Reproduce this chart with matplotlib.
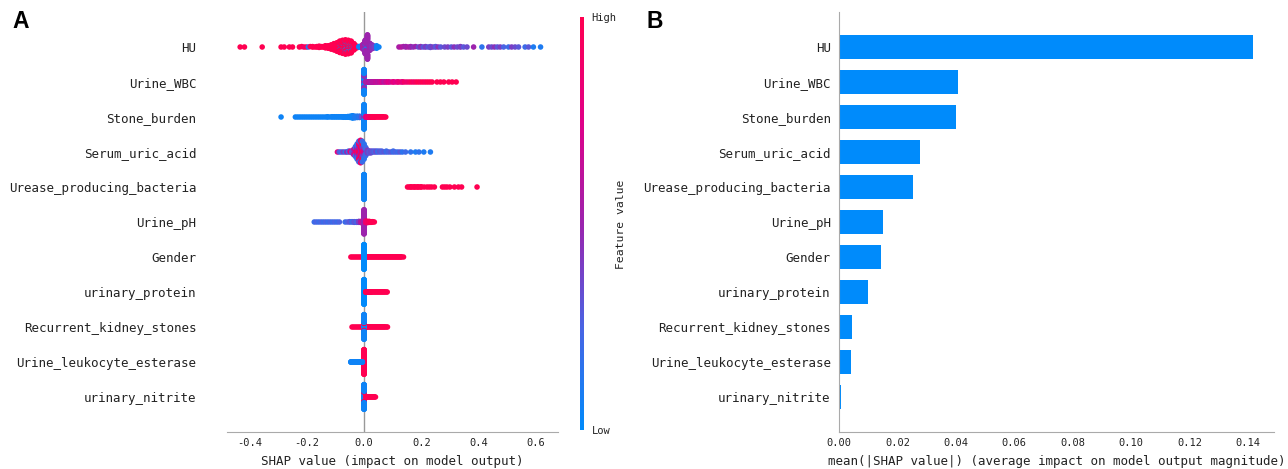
import numpy as np
import matplotlib
matplotlib.use("Agg")
import matplotlib.pyplot as plt
from matplotlib.colors import LinearSegmentedColormap, Normalize
from matplotlib.cm import ScalarMappable

# ---------------------------------------------------------------- data
FEATURES = [
    "HU", "Urine_WBC", "Stone_burden", "Serum_uric_acid",
    "Urease_producing_bacteria", "Urine_pH", "Gender", "urinary_protein",
    "Recurrent_kidney_stones", "Urine_leukocyte_esterase", "urinary_nitrite",
]

MEAN_ABS_SHAP = [0.1418, 0.0407, 0.0400, 0.0278, 0.0253, 0.0151,
                 0.0144, 0.0100, 0.0045, 0.0042, 0.0007]

BEESWARM_TICKS = [-0.4, -0.2, 0.0, 0.2, 0.4, 0.6]
BAR_TICKS = [0.00, 0.02, 0.04, 0.06, 0.08, 0.10, 0.12, 0.14]

# Each entry: (SHAP value, scaled feature value 0..1, number of samples)
HU_POINTS = [
    (-0.433, 1, 1), (-0.418, 1, 1), (-0.356, 1, 1), (-0.290, 1, 1),
    (-0.279, 1, 1), (-0.261, 1, 1), (-0.250, 1, 1), (-0.226, 1, 1),
    (-0.218, 1, 1), (-0.210, 0.9, 1), (-0.202, 1, 1), (-0.195, 0.15, 1),
    (-0.188, 1, 1), (-0.180, 1, 2), (-0.172, 1, 1), (-0.165, 1, 2),
    (-0.157, 1, 2), (-0.150, 1, 2), (-0.143, 1, 2),
    (-0.135, 1, 4), (-0.125, 1, 7), (-0.115, 1, 11), (-0.105, 1, 16),
    (-0.095, 1, 21),
    (-0.085, 1, 14), (-0.085, 0.05, 2), (-0.085, 1, 12),
    (-0.075, 1, 16), (-0.075, 0.05, 2), (-0.075, 1, 14),
    (-0.065, 1, 14), (-0.065, 0.1, 3), (-0.065, 1, 10), (-0.065, 0.05, 2),
    (-0.065, 1, 6),
    (-0.055, 1, 12), (-0.055, 0.05, 2), (-0.055, 1, 8), (-0.055, 0.1, 3),
    (-0.055, 1, 8),
    (-0.045, 1, 10), (-0.045, 0.1, 2), (-0.045, 1, 8), (-0.045, 0.05, 3),
    (-0.045, 1, 6),
    (-0.035, 1, 8), (-0.035, 0.1, 2), (-0.035, 1, 6),
    (-0.025, 1, 5), (-0.018, 0.05, 2), (-0.012, 0.05, 2),
    (-0.004, 0.55, 12), (0.004, 0.5, 14), (0.004, 0.1, 3), (0.004, 0.5, 16),
    (0.012, 0.5, 26), (0.020, 0.5, 18), (0.028, 0.45, 10), (0.036, 0.4, 5),
    (0.044, 0.05, 2), (0.052, 0.05, 1),
    (0.122, 0.55, 1), (0.130, 0.6, 1), (0.138, 0.55, 1), (0.146, 0.5, 2),
    (0.155, 0.55, 1), (0.163, 0.5, 2), (0.172, 0.45, 1), (0.180, 0.5, 1),
    (0.190, 0.35, 1), (0.198, 0.45, 2), (0.207, 0.3, 1), (0.215, 0.4, 2),
    (0.224, 0.3, 1), (0.232, 0.35, 2), (0.241, 0.4, 1), (0.250, 0.3, 2),
    (0.259, 0.45, 1), (0.268, 0.3, 1), (0.282, 0.35, 1), (0.293, 0.4, 1),
    (0.305, 0.3, 1), (0.315, 0.45, 1), (0.326, 0.35, 1), (0.337, 0.4, 2),
    (0.348, 0.3, 1), (0.360, 0.35, 1), (0.383, 0.5, 1), (0.412, 0.15, 1),
    (0.436, 0.4, 1), (0.446, 0.35, 1), (0.456, 0.45, 1), (0.466, 0.3, 1),
    (0.476, 0.4, 1), (0.488, 0.25, 1), (0.505, 0.2, 1), (0.516, 0.4, 1),
    (0.528, 0.35, 1), (0.540, 0.3, 1), (0.563, 0.2, 1), (0.575, 0.3, 1),
    (0.592, 0.1, 1), (0.617, 0.1, 1),
]

URINE_WBC_POINTS = [
    (0.0, 0.45, 30), (0.0, 0.05, 30), (0.0, 0.45, 30), (0.0, 0.05, 40),
    (0.006, 0.55, 3), (0.012, 0.55, 3), (0.018, 0.6, 3), (0.024, 0.55, 3),
    (0.030, 0.6, 3), (0.036, 0.6, 2), (0.042, 0.65, 2), (0.048, 0.6, 2),
    (0.055, 0.65, 2), (0.062, 0.7, 2), (0.070, 0.6, 2), (0.078, 0.7, 2),
    (0.086, 0.75, 2), (0.094, 0.7, 1), (0.102, 0.8, 2), (0.110, 0.75, 1),
    (0.118, 0.8, 2), (0.126, 0.85, 1), (0.134, 0.8, 2), (0.142, 0.9, 1),
    (0.150, 0.85, 1), (0.158, 0.9, 1), (0.166, 0.95, 1), (0.174, 0.9, 1),
    (0.182, 0.95, 1), (0.190, 1, 1), (0.198, 0.95, 1), (0.206, 1, 1),
    (0.214, 0.95, 1), (0.222, 1, 1), (0.230, 1, 1), (0.238, 1, 1),
    (0.255, 1, 1), (0.267, 1, 1), (0.279, 1, 1), (0.296, 1, 1),
    (0.308, 1, 1), (0.322, 1, 1),
]

STONE_BURDEN_POINTS = [
    (-0.290, 0.05, 1), (-0.240, 0.05, 1), (-0.232, 0.05, 1), (-0.224, 0.05, 1),
    (-0.216, 0.05, 1), (-0.208, 0.05, 1), (-0.200, 0.05, 1), (-0.192, 0.05, 1),
    (-0.184, 0.05, 1), (-0.176, 0.05, 1), (-0.168, 0.05, 1), (-0.160, 0.05, 1),
    (-0.152, 0.05, 1), (-0.144, 0.05, 1), (-0.136, 0.05, 1), (-0.128, 0.05, 2),
    (-0.120, 0.05, 1), (-0.112, 0.05, 2), (-0.104, 0.05, 2), (-0.096, 0.05, 2),
    (-0.088, 0.05, 2), (-0.080, 0.05, 2), (-0.072, 0.05, 3), (-0.064, 0.05, 3),
    (-0.056, 0.05, 4), (-0.048, 0.05, 6), (-0.040, 0.05, 10), (-0.032, 0.1, 7),
    (-0.024, 0.1, 6), (-0.016, 0.15, 6), (-0.008, 0.3, 5),
    (0.0, 0.45, 25), (0.0, 0.05, 75),
    (0.006, 0.7, 4), (0.012, 0.85, 3), (0.018, 0.9, 3), (0.024, 0.95, 3),
    (0.030, 1, 3), (0.036, 1, 3), (0.042, 1, 2), (0.048, 1, 2),
    (0.054, 1, 2), (0.060, 1, 2), (0.066, 1, 2), (0.072, 1, 1), (0.076, 1, 1),
]

SERUM_URIC_ACID_POINTS = [
    (-0.093, 0.8, 1), (-0.087, 0.3, 1), (-0.080, 0.2, 1), (-0.073, 0.4, 1),
    (-0.066, 0.15, 1), (-0.060, 0.5, 1), (-0.054, 0.2, 2), (-0.048, 0.8, 2),
    (-0.042, 0.3, 3),
    (-0.036, 0.9, 2), (-0.036, 0.2, 2), (-0.036, 0.6, 3),
    (-0.030, 0.6, 4), (-0.030, 0.9, 4), (-0.030, 0.2, 4),
    (-0.024, 0.9, 6), (-0.024, 0.5, 6), (-0.024, 0.15, 6),
    (-0.018, 1, 8), (-0.018, 0.5, 8), (-0.018, 0.9, 6), (-0.018, 0.2, 2),
    (-0.012, 0.6, 8), (-0.012, 1, 10), (-0.012, 0.4, 6), (-0.012, 0.9, 2),
    (-0.006, 0.9, 8), (-0.006, 0.45, 8), (-0.006, 1, 6), (-0.006, 0.2, 2),
    (0.0, 0.7, 8), (0.0, 0.35, 6), (0.0, 0.15, 4),
    (0.006, 0.5, 4), (0.006, 0.2, 6),
    (0.012, 0.4, 4), (0.018, 0.3, 3), (0.024, 0.35, 3),
    (0.030, 0.3, 2), (0.036, 0.25, 2), (0.042, 0.35, 2), (0.048, 0.2, 2),
    (0.055, 0.3, 2), (0.062, 0.25, 2), (0.070, 0.3, 1), (0.078, 0.2, 2),
    (0.086, 0.25, 1), (0.094, 0.3, 1), (0.102, 0.2, 2), (0.110, 0.25, 1),
    (0.118, 0.2, 1), (0.126, 0.3, 1), (0.134, 0.15, 1), (0.145, 0.2, 1),
    (0.163, 0.15, 1), (0.180, 0.1, 1), (0.192, 0.15, 1), (0.209, 0.1, 1),
    (0.232, 0.1, 1),
]

UREASE_POINTS = [
    (0.0, 0.05, 160),
    (0.152, 1, 1), (0.158, 1, 1), (0.164, 1, 2), (0.170, 1, 1), (0.176, 1, 2),
    (0.182, 1, 1), (0.188, 1, 2), (0.194, 1, 1), (0.200, 1, 2), (0.210, 1, 1),
    (0.220, 1, 1), (0.228, 1, 1), (0.236, 1, 1), (0.246, 1, 1), (0.274, 1, 1),
    (0.282, 1, 1), (0.290, 1, 1), (0.300, 1, 1), (0.316, 1, 1), (0.330, 1, 1),
    (0.341, 1, 1), (0.395, 1, 1),
]

URINE_PH_POINTS = [
    (-0.174, 0.2, 1), (-0.166, 0.25, 1), (-0.158, 0.2, 1), (-0.150, 0.25, 1),
    (-0.142, 0.2, 1), (-0.134, 0.25, 1), (-0.126, 0.2, 1), (-0.118, 0.25, 1),
    (-0.110, 0.2, 1), (-0.102, 0.25, 1), (-0.094, 0.2, 1), (-0.086, 0.25, 1),
    (-0.066, 0.2, 1), (-0.058, 0.25, 1), (-0.050, 0.3, 2), (-0.042, 0.2, 2),
    (-0.034, 0.3, 3), (-0.026, 0.25, 3), (-0.018, 0.4, 4), (-0.010, 0.6, 5),
    (0.0, 0.5, 80),
    (0.006, 0.85, 6), (0.012, 0.9, 5), (0.018, 0.95, 4), (0.024, 1, 3),
    (0.030, 1, 2), (0.036, 1, 1),
]

GENDER_POINTS = [
    (-0.046, 1, 1), (-0.040, 1, 1), (-0.034, 1, 1), (-0.028, 1, 1),
    (-0.022, 1, 1), (-0.016, 1, 1), (-0.010, 1, 1), (-0.004, 1, 1),
    (0.004, 1, 2), (0.010, 1, 2), (0.016, 1, 2), (0.022, 1, 2), (0.028, 1, 2),
    (0.034, 1, 2), (0.040, 1, 2), (0.046, 1, 2), (0.052, 1, 2), (0.058, 1, 2),
    (0.064, 1, 2), (0.070, 1, 2), (0.076, 1, 2), (0.082, 1, 2), (0.088, 1, 2),
    (0.094, 1, 2), (0.100, 1, 2), (0.106, 1, 2), (0.112, 1, 2), (0.118, 1, 2),
    (0.124, 1, 2), (0.130, 1, 2), (0.138, 1, 1),
    (0.0, 0.0, 150),
]

URINARY_PROTEIN_POINTS = [
    (0.0, 0.0, 150),
    (0.006, 1, 3), (0.012, 1, 3), (0.018, 1, 3), (0.024, 1, 3), (0.030, 1, 2),
    (0.036, 1, 2), (0.042, 1, 2), (0.048, 1, 2), (0.054, 1, 2), (0.060, 1, 2),
    (0.066, 1, 2), (0.072, 1, 2), (0.078, 1, 1), (0.081, 1, 1),
]

RECURRENT_STONES_POINTS = [
    (-0.042, 1, 1), (-0.036, 1, 1), (-0.030, 1, 1), (-0.024, 1, 1),
    (-0.018, 1, 1), (-0.012, 1, 1), (-0.006, 1, 1),
    (0.006, 1, 2), (0.012, 1, 2), (0.018, 1, 2), (0.024, 1, 2), (0.030, 1, 2),
    (0.036, 1, 2), (0.042, 1, 2), (0.048, 1, 2), (0.054, 1, 2), (0.060, 1, 2),
    (0.066, 1, 2), (0.072, 1, 2), (0.078, 1, 1), (0.082, 1, 1),
    (0.0, 0.05, 40), (0.0, 1, 12), (0.0, 0.05, 90),
]

LEUKOCYTE_ESTERASE_POINTS = [
    (0.0, 1, 150),
    (-0.046, 0.05, 3), (-0.041, 0.05, 3), (-0.036, 0.05, 3), (-0.031, 0.05, 3),
    (-0.026, 0.05, 3), (-0.021, 0.05, 3), (-0.016, 0.05, 3), (-0.011, 0.05, 3),
    (-0.006, 0.05, 3),
]

URINARY_NITRITE_POINTS = [
    (0.0, 0.05, 60), (0.0, 1, 10), (0.0, 0.5, 4), (0.0, 0.05, 84),
    (0.006, 1, 2), (0.011, 1, 2), (0.016, 1, 2), (0.021, 1, 2), (0.026, 1, 2),
    (0.031, 1, 2), (0.036, 1, 2), (0.040, 1, 1),
]

ROW_POINTS = [
    HU_POINTS, URINE_WBC_POINTS, STONE_BURDEN_POINTS, SERUM_URIC_ACID_POINTS,
    UREASE_POINTS, URINE_PH_POINTS, GENDER_POINTS, URINARY_PROTEIN_POINTS,
    RECURRENT_STONES_POINTS, LEUKOCYTE_ESTERASE_POINTS, URINARY_NITRITE_POINTS,
]

# ---------------------------------------------------------------- style
plt.rcParams["font.family"] = ["DejaVu Sans Mono"]
plt.rcParams["axes.unicode_minus"] = False

TEXT_COLOR = "#222222"
BAR_COLOR = "#008bfb"

# blue -> purple -> red scale used for the feature values
red_blue = LinearSegmentedColormap.from_list(
    "red_blue",
    [(0.0, (0.0, 0.543, 0.983)),
     (0.25, (0.29, 0.39, 0.89)),
     (0.5, (0.61, 0.14, 0.68)),
     (0.75, (0.88, 0.0, 0.53)),
     (1.0, (1.0, 0.0, 0.318))],
)


def expand(points):
    vals, cols = [], []
    for v, c, n in points:
        vals += [v] * n
        cols += [c] * n
    return np.array(vals, float), np.array(cols, float)


def swarm_offsets(vals, row_height=0.4, nbins=100):
    """Stack points that fall into the same bin alternately above/below."""
    span = vals.max() - vals.min()
    quant = np.round(nbins * (vals - vals.min()) / (span + 1e-8))
    order = np.argsort(quant, kind="stable")
    ys = np.zeros(len(vals))
    layer, last = 0, None
    for i in order:
        if quant[i] != last:
            layer = 0
        ys[i] = np.ceil(layer / 2) * ((layer % 2) * 2 - 1)
        layer += 1
        last = quant[i]
    ys *= 0.9 * (row_height / np.max(ys + 1))
    return ys


W, H = 1288, 469
fig = plt.figure(figsize=(W / 100, H / 100), dpi=100)


def px_axes(x0, y_top, x1, y_bottom):
    return fig.add_axes([x0 / W, 1 - y_bottom / H, (x1 - x0) / W, (y_bottom - y_top) / H])


n = len(FEATURES)
positions = [n - 1 - i for i in range(n)]

# ---------------------------------------------------------------- panel A
axA = px_axes(227, 12, 558, 432)
axA.axvline(0, color="#999999", lw=1.0, zorder=-1)
for pos, pts in zip(positions, ROW_POINTS):
    vals, cols = expand(pts)
    ys = swarm_offsets(vals)
    axA.scatter(vals, pos + ys, c=cols, cmap=red_blue, vmin=0, vmax=1,
                s=16, linewidths=0, zorder=3)

axA.set_xlim(-0.479, 0.678)
axA.set_ylim(-1, n)
axA.set_yticks(positions)
axA.set_yticklabels(FEATURES)
axA.set_xticks(BEESWARM_TICKS)
axA.set_xticklabels([f"{t:.1f}" for t in BEESWARM_TICKS])
axA.tick_params(axis="y", length=0, pad=22, labelsize=9, labelcolor=TEXT_COLOR)
axA.tick_params(axis="x", length=0, pad=4, labelsize=7.5, labelcolor=TEXT_COLOR)
for side in ("top", "right", "left"):
    axA.spines[side].set_visible(False)
axA.spines["bottom"].set_color("#aaaaaa")
axA.set_xlabel("SHAP value (impact on model output)", fontsize=9,
               color=TEXT_COLOR, labelpad=5)

# colour bar
cax = px_axes(580, 17, 584, 430)
cb = fig.colorbar(ScalarMappable(norm=Normalize(0, 1), cmap=red_blue), cax=cax,
                  ticks=[0, 1])
cb.set_ticklabels(["Low", "High"])
cb.outline.set_visible(False)
cax.tick_params(length=0, pad=5.5, labelsize=7.5, labelcolor=TEXT_COLOR)
fig.text(621 / W, 1 - 224 / H, "Feature value", rotation=90, ha="center",
         va="center", fontsize=8.2, color=TEXT_COLOR)

# ---------------------------------------------------------------- panel B
axB = px_axes(839, 12, 1274, 432)
axB.barh(positions, MEAN_ABS_SHAP, 0.7, color=BAR_COLOR, align="center")
axB.set_xlim(0, 0.1489)
axB.set_ylim(-1, n)
axB.set_yticks(positions)
axB.set_yticklabels(FEATURES)
axB.set_xticks(BAR_TICKS)
axB.set_xticklabels([f"{t:.2f}" for t in BAR_TICKS])
axB.tick_params(axis="y", length=0, pad=6, labelsize=9, labelcolor=TEXT_COLOR)
axB.tick_params(axis="x", length=0, pad=4, labelsize=7.5, labelcolor=TEXT_COLOR)
for side in ("top", "right"):
    axB.spines[side].set_visible(False)
axB.spines["left"].set_color("#aaaaaa")
axB.spines["bottom"].set_color("#aaaaaa")
axB.set_xlabel("mean(|SHAP value|) (average impact on model output magnitude)",
               fontsize=9, color=TEXT_COLOR, labelpad=5)

# panel letters
for x, letter in ((12, "A"), (647, "B")):
    fig.text(x / W, 1 - 28 / H, letter, fontsize=16.5, fontweight="bold",
             family="Liberation Sans", ha="left", va="baseline")

fig.savefig("out.png", dpi=100)
